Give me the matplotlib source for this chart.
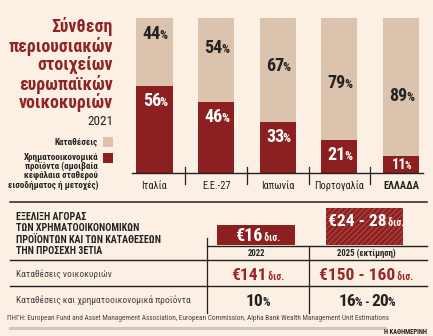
import matplotlib
matplotlib.use("Agg")
import matplotlib.pyplot as plt
import matplotlib.font_manager as fm
from matplotlib.patches import Rectangle
from matplotlib.lines import Line2D

# ---------------- data ----------------
countries = ['Ιταλία', 'Ε.Ε.-27', 'Ιαπωνία', 'Πορτογαλία', 'ΕΛΛΑΔΑ']
deposits = [44, 54, 67, 79, 89]
financial = [56, 46, 33, 21, 11]

title_lines = ['Σύνθεση', 'περιουσιακών', 'στοιχείων', 'ευρωπαϊκών', 'νοικοκυριών']
year_label = '2021'
legend_dep = 'Καταθέσεις'
legend_fin = ['Χρηματοοικονομικά', 'προϊόντα (αμοιβαία', 'κεφάλαια σταθερού', 'εισοδήματος ή μετοχές)']

table_title = ['ΕΞΕΛΙΞΗ ΑΓΟΡΑΣ', 'ΤΩΝ ΧΡΗΜΑΤΟΟΙΚΟΝΟΜΙΚΩΝ', 'ΠΡΟΪΟΝΤΩΝ ΚΑΙ ΤΩΝ ΚΑΤΑΘΕΣΕΩΝ', 'ΤΗΝ ΠΡΟΣΕΧΗ 3ΕΤΙΑ']
years = ['2022', '2025 (εκτίμηση)']
flows = ['€16', '€24 - 28']
row_labels = ['Καταθέσεις νοικοκυριών', 'Καταθέσεις και χρηματοοικονομικά προϊόντα']
hh_deposits = ['€141', '€150 - 160']
shares = [['10', '%'], ['16', '% - ', '20', '%']]
unit = 'δισ.'
source = ('ΠΗΓΗ: European Fund and Asset Management Association, European Commission, '
          'Alpha Bank Wealth Management Unit Estimations')
brand = 'Η ΚΑΘΗΜΕΡΙΝΗ'

# ---------------- style ----------------
BG = '#fcefe3'
BEIGE = '#dcc3ad'
DARKRED = '#8c1f1f'
TITLERED = '#8e2424'
VALRED = '#9a2626'
INK = '#222222'
GREY = '#444444'


def pick(names):
    for n in names:
        try:
            fm.findfont(fm.FontProperties(family=n), fallback_to_default=False)
            return n
        except Exception:
            pass
    return 'DejaVu Sans'


NARROW = pick(['Liberation Sans Narrow', 'Roboto Condensed', 'DejaVu Sans Condensed', 'Liberation Sans'])

W, H = 433, 336
fig = plt.figure(figsize=(W / 100, H / 100), dpi=100)
fig.patch.set_facecolor(BG)
renderer = fig.canvas.get_renderer()


def fx(x):
    return x / W


def fy(y):
    return 1 - y / H


def txt(x, y, s, **kw):
    kw.setdefault('family', NARROW)
    return fig.text(fx(x), fy(y), s, **kw)


def rich(x, y, parts, ha='center', gap=-1.4):
    """parts: list of (text, size, weight, color); y is baseline in px."""
    objs = []
    widths = []
    for s, size, weight, color in parts:
        t = fig.text(0, 0, s, fontsize=size, fontweight=weight, color=color,
                     family=NARROW, va='baseline', ha='left')
        bb = t.get_window_extent(renderer)
        objs.append(t)
        widths.append(bb.width + gap)
    total = sum(widths)
    if ha == 'center':
        x0 = x - total / 2
    elif ha == 'right':
        x0 = x - total
    else:
        x0 = x
    for t, w in zip(objs, widths):
        t.set_position((fx(x0), fy(y)))
        x0 += w
    return objs


def hline(y, x0, x1, color=INK, lw=1.0):
    fig.add_artist(Line2D([fx(x0), fx(x1)], [fy(y), fy(y)], color=color, lw=lw,
                          transform=fig.transFigure))


def vline(x, y0, y1, color=INK, lw=0.9):
    fig.add_artist(Line2D([fx(x), fx(x)], [fy(y0), fy(y1)], color=color, lw=lw,
                          transform=fig.transFigure))


# ---------------- title & legend ----------------
for i, line in enumerate(title_lines):
    txt(113, 27 + i * 19, line, fontsize=12.9, fontweight='bold', color=TITLERED,
        ha='right', va='center')
txt(113, 121, year_label, fontsize=9.5, color=INK, ha='right', va='center')

txt(98, 142, legend_dep, fontsize=6.5, fontweight='bold', color=INK, ha='right', va='center')
fig.add_artist(Rectangle((fx(103), fy(147)), 10 / W, 10 / H, facecolor=BEIGE,
                         edgecolor='none', transform=fig.transFigure))
for i, line in enumerate(legend_fin):
    txt(98, 157 + i * 9.4, line, fontsize=6.5, fontweight='bold', color=INK, ha='right', va='center')
fig.add_artist(Rectangle((fx(103), fy(163)), 10 / W, 10 / H, facecolor=DARKRED,
                         edgecolor='none', transform=fig.transFigure))

# ---------------- bars ----------------
ax_left, ax_w = 123.7, 308.0
ax_top, ax_bot = 18.0, 173.0
ax = fig.add_axes([fx(ax_left), fy(ax_bot), ax_w / W, (ax_bot - ax_top) / H])
ax.set_xlim(-0.5, len(countries) - 0.5)
ax.set_ylim(0, 100)
ax.axis('off')
xs = list(range(len(countries)))
ax.bar(xs, financial, width=0.585, color=DARKRED, linewidth=0)
ax.bar(xs, deposits, bottom=financial, width=0.585, color=BEIGE, linewidth=0)

px_per_unit = (ax_bot - ax_top) / 100.0
for i, (d, f) in enumerate(zip(deposits, financial)):
    xc = ax_left + (i + 0.5) * ax_w / len(countries)
    # deposits label
    yd_c = ax_bot - (129 - 0.89 * d) * px_per_unit
    rich(xc, yd_c + 5.5, [(str(d), 13, 'bold', INK), ('%', 9, 'bold', INK)])
    # financial label
    seg_top = ax_bot - f * px_per_unit
    yc = min(seg_top + 14, (seg_top + ax_bot) / 2)
    big = 13 if f >= 15 else 10.5
    rich(xc, yc + big * 0.45, [(str(f), big, 'bold', 'white'), ('%', big * 0.7, 'bold', 'white')])
    # category label
    txt(xc, 186, countries[i], fontsize=7.5, color=INK, ha='center', va='center',
        fontweight='bold' if i == len(countries) - 1 else 'normal')
    if i < len(countries) - 1:
        vline(xc + ax_w / len(countries) / 2, 167, 184, lw=0.9)

hline(173, 132, 423, lw=1.0)
hline(202, 10, 427, lw=1.1)

# ---------------- table ----------------
for i, line in enumerate(table_title):
    txt(16, 217 + i * 11.3, line, fontsize=7.2, fontweight='bold', color=INK, ha='left', va='center')

col_c = [257, 366]
# flow boxes
fig.add_artist(Rectangle((fx(217), fy(245)), 78 / W, 20 / H, facecolor=DARKRED,
                         edgecolor='none', transform=fig.transFigure))
plt.rcParams['hatch.linewidth'] = 1.0
fig.add_artist(Rectangle((fx(326), fy(245)), 77 / W, 37 / H, facecolor=DARKRED,
                         edgecolor='#a9433d', hatch='//////', linewidth=0,
                         transform=fig.transFigure))
rich(col_c[0], 241, [(flows[0], 13, 'bold', 'white'), (' ' + unit, 7, 'bold', 'white')], gap=-0.6)
rich(col_c[1], 226, [(flows[1], 12.5, 'bold', 'white'), (' ' + unit, 7, 'bold', 'white')], gap=-0.6)

hline(246, 207, 427, lw=1.0)
for c, yl in zip(col_c, years):
    txt(c, 253, yl, fontsize=6.3, fontweight='bold', color=INK, ha='center', va='center')
hline(260, 10, 427, lw=1.0)
hline(286, 10, 427, lw=1.0)
vline(207, 238, 313, lw=0.9)
vline(309, 246, 313, lw=0.9)

txt(16, 274, row_labels[0], fontsize=6.8, color=GREY, ha='left', va='center')
txt(16, 300, row_labels[1], fontsize=6.8, color=GREY, ha='left', va='center')
for c, v in zip(col_c, hh_deposits):
    rich(c, 280.5, [(v, 12.5, 'bold', VALRED), (' ' + unit, 7, 'bold', VALRED)], gap=-0.6)
for c, parts in zip(col_c, shares):
    pr = []
    for p in parts:
        if '%' in p:
            pr.append((p, 8.5, 'bold', INK))
        else:
            pr.append((p, 12.5, 'bold', INK))
    rich(c, 305.5, pr)

txt(7, 319, source, fontsize=5.2, color=GREY, ha='left', va='center')
hline(328, 10, 385, color='#cfc6bd', lw=2.2)
txt(427, 332, brand, fontsize=4.8, fontweight='bold', color=INK, ha='right', va='center')

fig.savefig('out.png', dpi=100, facecolor=BG)
